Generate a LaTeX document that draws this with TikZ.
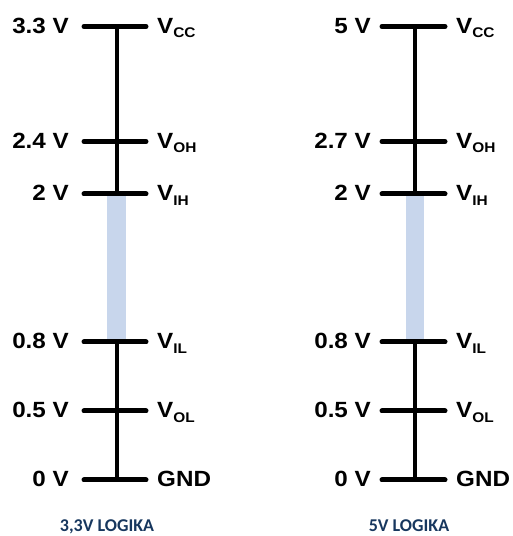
\documentclass[tikz,border=0pt]{standalone}
\usepackage{fontspec}
\setmainfont{Liberation Sans}
\newfontfamily\captionfont{Carlito}
\definecolor{bandblue}{RGB}{200,214,236}
\definecolor{captionnavy}{RGB}{23,55,94}
% subscript set in a smaller size below the baseline
\newcommand\sigsub[1]{\raisebox{-4.5pt}{\fontsize{14}{14}\selectfont #1}}
% slightly widened bold lettering
\newcommand\widetext[1]{\scalebox{1.1}[1]{#1}}
\begin{document}
\begin{tikzpicture}[x=1pt,y=1pt,
  levelbar/.style={line width=5pt, line cap=round},
  rail/.style={line width=4pt},
  band/.style={fill=bandblue, draw=none},
  valtext/.style={font=\bfseries\fontsize{22}{22}\selectfont, anchor=base east, inner sep=0pt},
  sigtext/.style={font=\bfseries\fontsize{22}{22}\selectfont, anchor=base west, inner sep=0pt},
  captiontext/.style={font=\captionfont\bfseries\fontsize{18}{18}\selectfont, text=captionnavy, anchor=base, inner sep=0pt}
]
\useasboundingbox (0,0) rectangle (512,536);

% level coordinates for both scales: left end, right end, centre
\foreach \side/\cx/\xa/\xb in {L/116.5/84/146, R/414.5/382/445}{
  \foreach \lvl/\py in {vcc/26.5, voh/141.5, vih/194, vil/342, vol/411, gnd/480}{
    \coordinate (\side-\lvl-a) at (\xa, 536-\py);
    \coordinate (\side-\lvl-b) at (\xb, 536-\py);
    \coordinate (\side-\lvl) at (\cx, 536-\py);
  }
}

% undefined region between V_IL and V_IH
\fill[band] (107, 536-196) rectangle (126, 536-340);
\fill[band] (406, 536-196) rectangle (424, 536-340);

% rails
\foreach \side in {L,R}{
  \draw[rail] (\side-vcc) -- (\side-vih);
  \draw[rail] (\side-vil) -- (\side-gnd);
  \foreach \lvl in {vcc,voh,vih,vil,vol,gnd}
    \draw[levelbar] (\side-\lvl-a) -- (\side-\lvl-b);
}

% voltage values
\foreach \lvl/\py/\lv/\rv in {vcc/26.5/3.3 V/5 V, voh/141.5/2.4 V/2.7 V, vih/194/2 V/2 V,
                              vil/342/0.8 V/0.8 V, vol/411/0.5 V/0.5 V, gnd/480/0 V/0 V}{
  \node[valtext] (L-\lvl-val) at (69, 536-\py-7) {\widetext{\lv}};
  \node[valtext] (R-\lvl-val) at (371, 536-\py-7) {\widetext{\rv}};
}

% signal names
\foreach \lvl/\py/\name in {vcc/26.5/V\sigsub{CC}, voh/141.5/V\sigsub{OH}, vih/194/V\sigsub{IH},
                            vil/342/V\sigsub{IL}, vol/411/V\sigsub{OL}, gnd/480/GND}{
  \node[sigtext] (L-\lvl-sig) at (157, 536-\py-7) {\widetext{\name}};
  \node[sigtext] (R-\lvl-sig) at (456, 536-\py-7) {\widetext{\name}};
}

% captions
\node[captiontext] (L-caption) at (107, 4.5) {3,3V LOGIKA};
\node[captiontext] (R-caption) at (409, 4.5) {5V LOGIKA};
\end{tikzpicture}
\end{document}
